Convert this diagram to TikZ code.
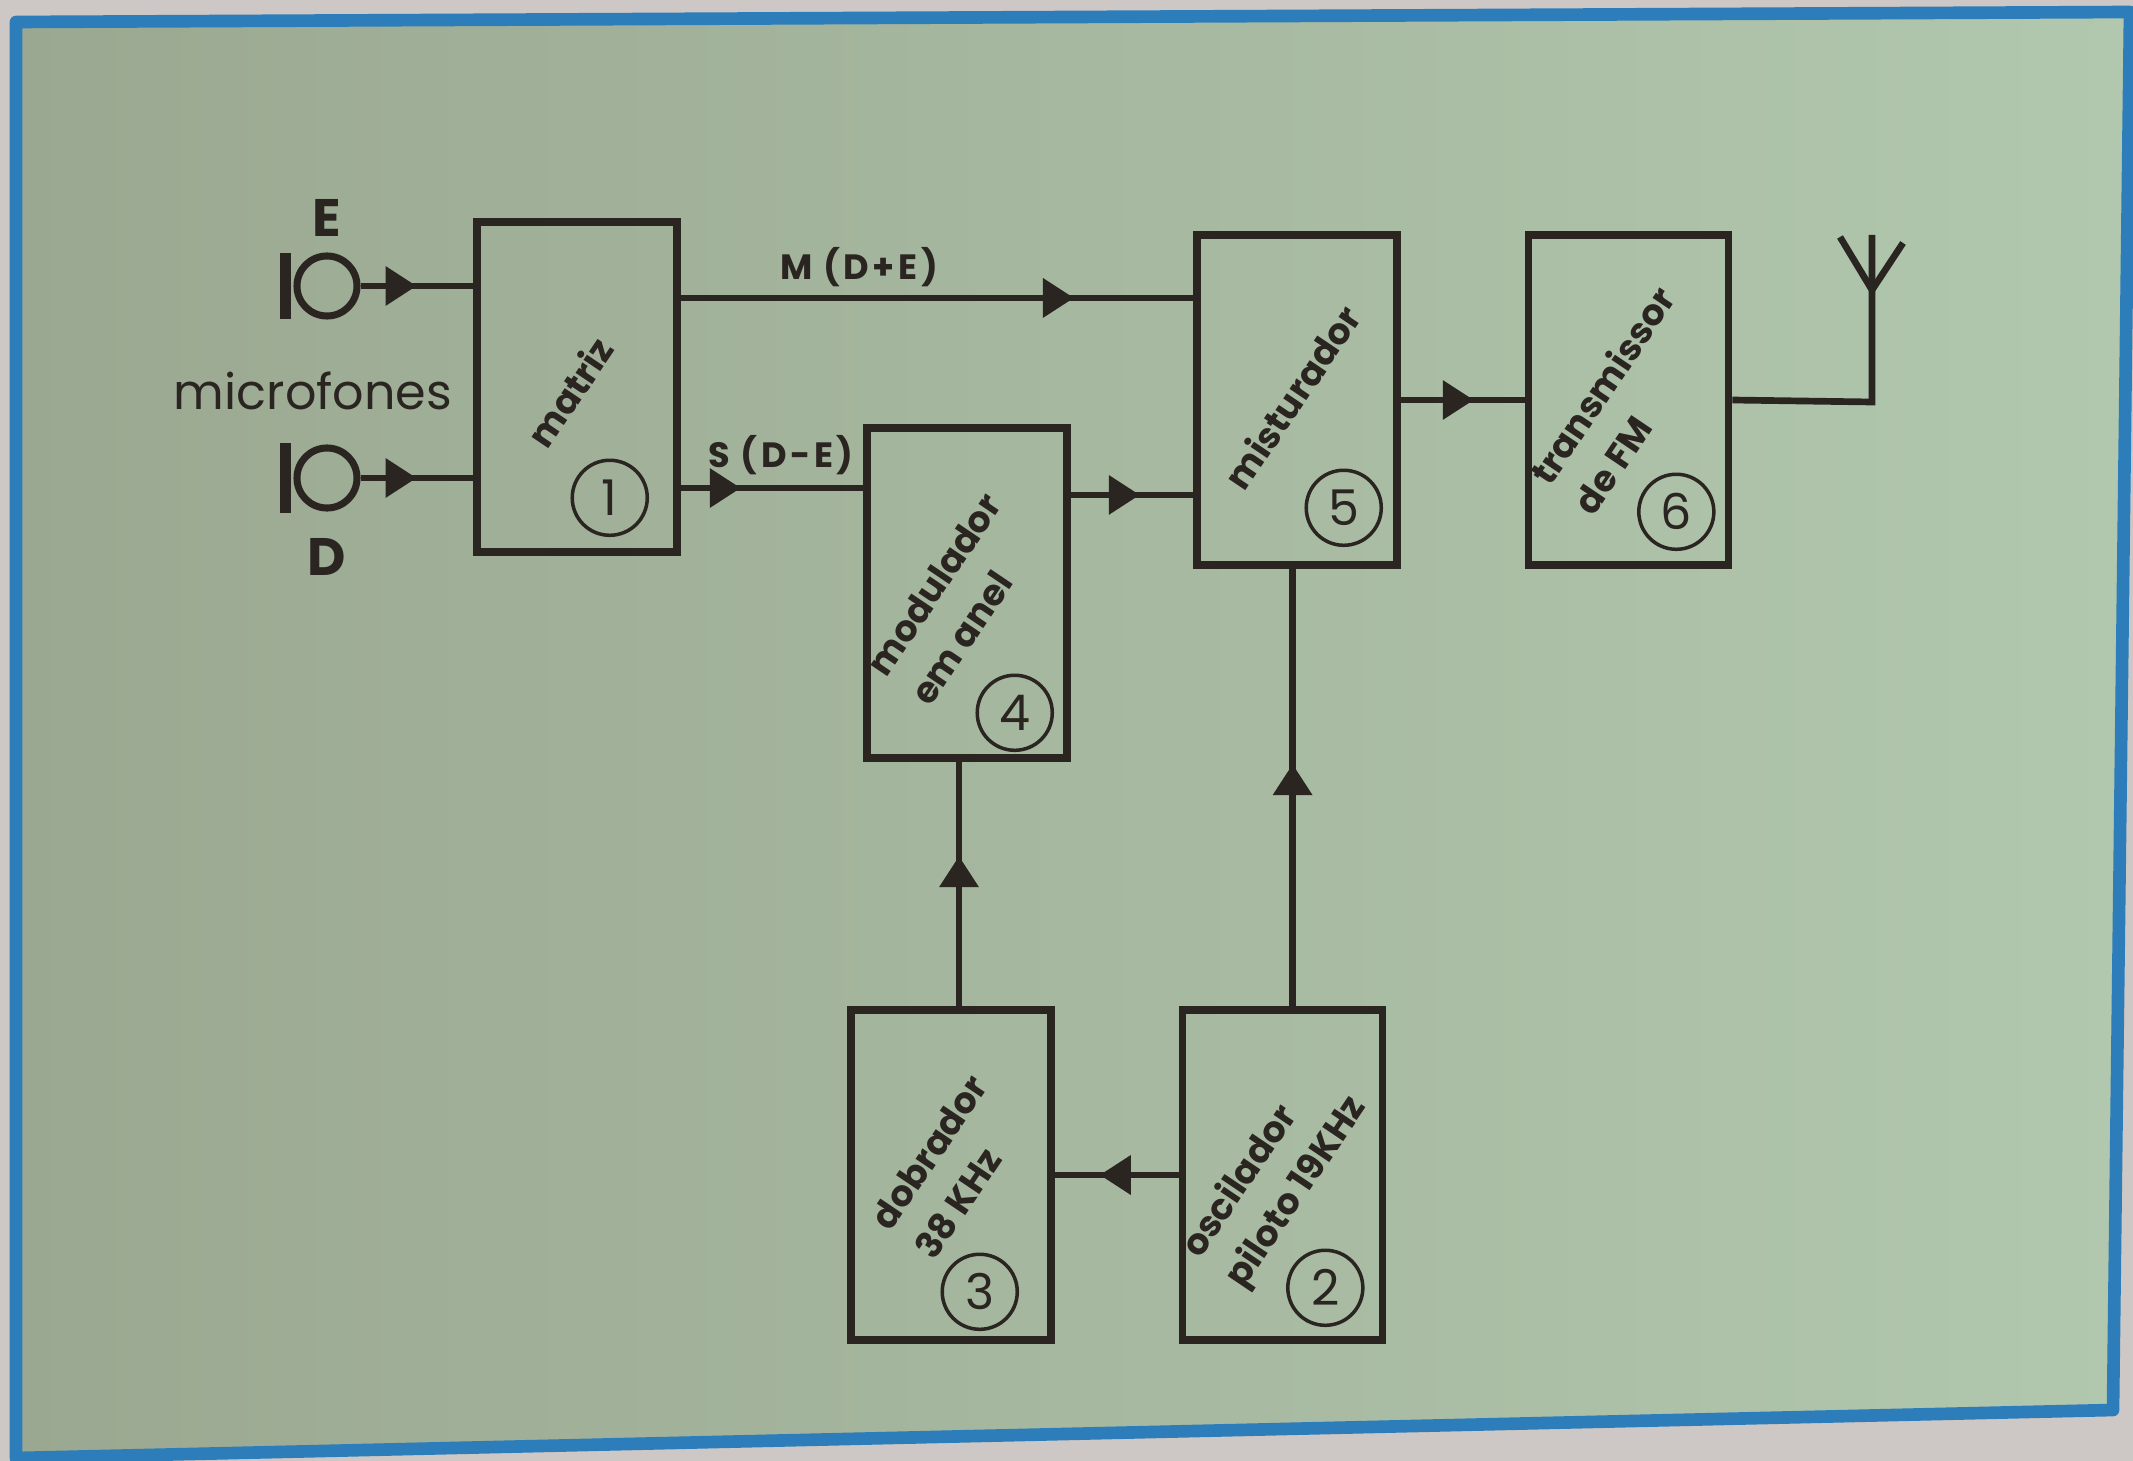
\documentclass[tikz,border=0pt]{standalone}
\usepackage{fontspec}
\setmainfont{Poppins}
\newfontfamily\wirefont[LetterSpace=10]{Poppins}
\usepackage{tikz}
\usetikzlibrary{
	positioning,
	calc,
	arrows.meta,
	decorations.markings
}
\definecolor{ink}{HTML}{2B2522}
\definecolor{paper}{HTML}{CDC8C6}
\definecolor{greenleft}{HTML}{9BA891}
\definecolor{greenright}{HTML}{B1C8AE}
\definecolor{frameblue}{HTML}{2C7DBA}
\tikzset{
	block/.style={
		draw=ink,line width=2.1pt,
		minimum width=2cm,minimum height=3.3cm,inner sep=0pt
	},
	blocktext/.style={
		text=ink,font=\bfseries\fontsize{10.3}{15}\selectfont,
		align=left,rotate=56,inner sep=0pt
	},
	numcircle/.style={
		circle,draw=ink,line width=1pt,minimum size=0.75cm,inner sep=0pt,
		text=ink,font=\fontsize{14}{14}\selectfont
	},
	micro/.style={
		circle,draw=ink,line width=2pt,minimum size=0.6cm,inner sep=0pt
	},
	wire/.style={
		draw=ink,line width=1.9pt
	},
	flowtip/.style={
		postaction={decorate},
		decoration={markings,mark=at position #1 with {\arrow{Triangle[length=0.31cm,width=0.38cm]}}}
	},
	wirelabel/.style={
		text=ink,font=\wirefont\bfseries\fontsize{10}{10}\selectfont,inner sep=0pt
	},
	iolabel/.style={
		text=ink,font=\bfseries\fontsize{15}{15}\selectfont,inner sep=0pt
	}
}

\begin{document}
\begin{tikzpicture}[x=0.01cm,y=-0.01cm]
		\useasboundingbox (0,0) rectangle (2133,1461);
		\fill[paper] (0,0) rectangle (2133,1461);
		\shade[left color=greenleft,right color=greenright,draw=frameblue,line width=3.6pt,line join=round]
			(16,22) -- (2130,12) -- (2113,1410) -- (16,1458) -- cycle;

		% blocks
		\node[block]                   (m1) at (577,387)  {};
		\node[block]                   (m5) at (1297,400) {};
		\node[block,right=1.24cm of m5] (m6)              {};
		\node[block]                   (m4) at (967,593)  {};
		\node[block]                   (m3) at (951,1175) {};
		\node[block,right=1.24cm of m3] (m2)              {};

		\node[blocktext] (t1) at ($(m1)+(-7,5)$)   {matriz};
		\node[blocktext] (t5) at ($(m5)+(-5,-3)$)  {misturador};
		\node[blocktext] (t6) at ($(m6)+(-5,0)$)   {transmissor\\de FM};
		\node[blocktext] (t4) at ($(m4)+(-11,6)$)  {modulador\\em anel};
		\node[blocktext] (t3) at ($(m3)+(0,-8)$)   {dobrador\\38 KHz};
		\node[blocktext] (t2) at ($(m2)+(-7,3)$)   {oscilador\\piloto 19KHz};

		\node[numcircle] (c1) at ($(m1.south east)+(-71,-58)$) {1};
		\node[numcircle] (c5) at ($(m5.south east)+(-57,-61)$) {5};
		\node[numcircle] (c6) at ($(m6.south east)+(-56,-57)$) {6};
		\node[numcircle] (c4) at ($(m4.south east)+(-56,-49)$) {4};
		\node[numcircle] (c3) at ($(m3.south east)+(-75,-52)$) {3};
		\node[numcircle] (c2) at ($(m2.south east)+(-61,-56)$) {2};

		% microphones
		\node[micro] (mice) at (327,286) {};
		\node[micro] (micd) at (327,478) {};
		\draw[wire,line width=2.9pt] ([xshift=-0.08cm,yshift=-0.33cm]mice.west) -- ([xshift=-0.08cm,yshift=0.33cm]mice.west);
		\draw[wire,line width=2.9pt] ([xshift=-0.08cm,yshift=-0.35cm]micd.west) -- ([xshift=-0.08cm,yshift=0.35cm]micd.west);
		\node[iolabel] (lble) at (327,218) {E};
		\node[iolabel] (lbld) at (327,557) {D};
		\node[text=ink,anchor=base,font=\fontsize{14}{14}\selectfont,inner sep=0pt] (lblmic) at (313,410) {microfones};

		% signal paths
		\draw[wire,flowtip=0.56cm] (mice.east) -- (mice.east -| m1.west);
		\draw[wire,flowtip=0.56cm] (micd.east) -- (micd.east -| m1.west);
		\draw[wire,flowtip=3.93cm] ([yshift=0.89cm]m1.east) -- ([yshift=0.89cm]m1.east -| m5.west);
		\draw[wire,flowtip=0.60cm] ([yshift=-1.01cm]m1.east) -- ([yshift=-1.01cm]m1.east -| m4.west);
		\draw[wire,flowtip=0.69cm] ([yshift=0.98cm]m4.east) -- ([yshift=0.98cm]m4.east -| m5.west);
		\draw[wire,flowtip=0.73cm] (m5.east) -- (m5.east -| m6.west);
		\draw[wire,flowtip=0.79cm] (m2.west) -- (m2.west -| m3.east);
		\draw[wire,flowtip=1.50cm] ([xshift=0.08cm]m3.north) -- ([xshift=0.08cm]m3.north |- m4.south);
		\draw[wire,flowtip=2.42cm] ([xshift=0.1cm]m2.north) -- ([xshift=0.1cm]m2.north |- m5.south);

		\node[wirelabel] (lblm) at (859,267) {M (D+E)};
		\node[wirelabel] (lbls) at (781,455) {S (D-E)};

		% antenna
		\coordinate (antfoot) at (1872,402);
		\coordinate (anttop)  at (1872,235);
		\coordinate (antjoin) at (1872,290);
		\coordinate (antleft) at (1840,237);
		\coordinate (antright) at (1903,243);
		\draw[wire] (m6.east) -- (antfoot) -- (anttop);
		\draw[wire] (antleft) -- (antjoin) -- (antright);
	\end{tikzpicture}
\end{document}
